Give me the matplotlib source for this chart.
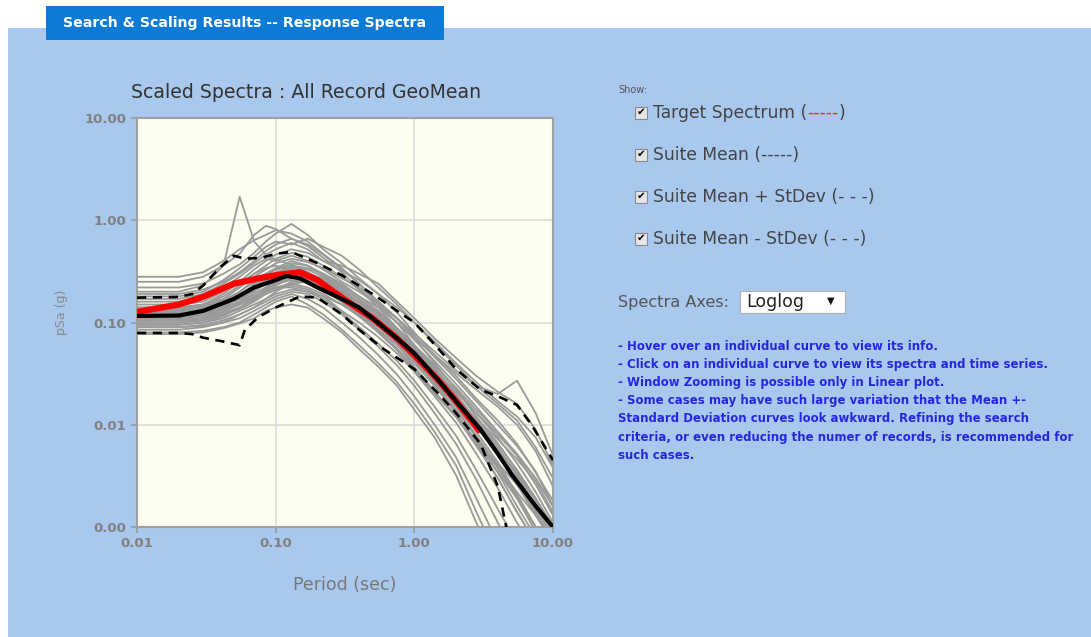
import numpy as np
import matplotlib
matplotlib.use("Agg")
import matplotlib.pyplot as plt
from matplotlib.patches import Rectangle
from matplotlib.ticker import FixedLocator, FuncFormatter

plt.rcParams['font.family'] = ['DejaVu Sans']

W, H = 1091, 637

# periods (sec) shared by all records
periods = [0.01, 0.02, 0.03, 0.042, 0.055, 0.07, 0.085, 0.1, 0.13, 0.17, 0.22, 0.3,
           0.4, 0.55, 0.75, 1.0, 1.4, 2.0, 2.8, 4.0, 5.5, 7.5, 10.0]

# individual scaled records, pSa (g)
records = [
    [0.28, 0.28, 0.31, 0.40, 0.52, 0.64, 0.72, 0.80, 0.74, 0.62, 0.47, 0.34, 0.24, 0.15, 0.10, 0.060, 0.034, 0.019, 0.010, 0.0052, 0.0026, 0.0013, 0.0008],
    [0.25, 0.25, 0.28, 0.36, 0.47, 0.72, 0.88, 0.82, 0.66, 0.56, 0.43, 0.31, 0.21, 0.14, 0.088, 0.052, 0.029, 0.016, 0.0085, 0.0043, 0.0021, 0.0010, 0.0006],
    [0.22, 0.22, 0.24, 0.30, 0.37, 0.48, 0.62, 0.74, 0.92, 0.72, 0.52, 0.38, 0.27, 0.19, 0.125, 0.080, 0.048, 0.030, 0.018, 0.011, 0.0065, 0.0034, 0.0018],
    [0.20, 0.20, 0.23, 0.36, 1.70, 0.62, 0.46, 0.41, 0.37, 0.31, 0.25, 0.19, 0.14, 0.095, 0.062, 0.037, 0.021, 0.012, 0.0065, 0.0035, 0.0019, 0.0010, 0.0005],
    [0.18, 0.18, 0.20, 0.26, 0.34, 0.44, 0.55, 0.62, 0.58, 0.66, 0.55, 0.45, 0.33, 0.22, 0.15, 0.10, 0.062, 0.038, 0.024, 0.016, 0.011, 0.006, 0.003],
    [0.17, 0.17, 0.19, 0.24, 0.30, 0.38, 0.46, 0.52, 0.60, 0.52, 0.40, 0.36, 0.30, 0.24, 0.16, 0.11, 0.070, 0.045, 0.030, 0.021, 0.016, 0.009, 0.004],
    [0.16, 0.16, 0.18, 0.22, 0.28, 0.36, 0.42, 0.40, 0.45, 0.40, 0.33, 0.25, 0.20, 0.15, 0.11, 0.078, 0.052, 0.034, 0.024, 0.020, 0.027, 0.013, 0.005],
    [0.15, 0.15, 0.16, 0.20, 0.24, 0.30, 0.36, 0.42, 0.48, 0.44, 0.36, 0.28, 0.21, 0.15, 0.10, 0.068, 0.042, 0.025, 0.015, 0.0085, 0.0050, 0.0026, 0.0013],
    [0.14, 0.14, 0.15, 0.17, 0.22, 0.28, 0.33, 0.38, 0.42, 0.39, 0.34, 0.27, 0.22, 0.16, 0.11, 0.074, 0.046, 0.028, 0.017, 0.010, 0.0062, 0.0035, 0.0016],
    [0.13, 0.13, 0.14, 0.16, 0.20, 0.26, 0.30, 0.33, 0.36, 0.34, 0.30, 0.24, 0.18, 0.13, 0.088, 0.060, 0.038, 0.022, 0.013, 0.0075, 0.0042, 0.0022, 0.0011],
    [0.125, 0.126, 0.135, 0.15, 0.18, 0.22, 0.27, 0.31, 0.35, 0.31, 0.26, 0.20, 0.16, 0.11, 0.078, 0.052, 0.031, 0.018, 0.0100, 0.0055, 0.0030, 0.0015, 0.0008],
    [0.12, 0.12, 0.13, 0.15, 0.17, 0.20, 0.24, 0.28, 0.30, 0.28, 0.24, 0.19, 0.15, 0.12, 0.085, 0.058, 0.036, 0.020, 0.011, 0.006, 0.0032, 0.0016, 0.0009],
    [0.115, 0.116, 0.12, 0.14, 0.16, 0.19, 0.22, 0.25, 0.28, 0.27, 0.22, 0.17, 0.13, 0.095, 0.066, 0.044, 0.026, 0.014, 0.0075, 0.0038, 0.0019, 0.0009, 0.0005],
    [0.11, 0.11, 0.12, 0.13, 0.15, 0.18, 0.21, 0.24, 0.26, 0.25, 0.21, 0.16, 0.12, 0.085, 0.060, 0.040, 0.024, 0.013, 0.0068, 0.0034, 0.0016, 0.0008, 0.0004],
    [0.105, 0.106, 0.11, 0.125, 0.14, 0.17, 0.20, 0.22, 0.24, 0.22, 0.19, 0.15, 0.115, 0.082, 0.056, 0.036, 0.021, 0.012, 0.0062, 0.0030, 0.0014, 0.0007, 0.0004],
    [0.10, 0.10, 0.105, 0.12, 0.135, 0.16, 0.19, 0.21, 0.23, 0.21, 0.18, 0.13, 0.10, 0.072, 0.050, 0.033, 0.019, 0.0105, 0.0052, 0.0024, 0.0011, 0.0006, 0.0003],
    [0.095, 0.095, 0.10, 0.11, 0.13, 0.15, 0.17, 0.19, 0.21, 0.20, 0.17, 0.125, 0.09, 0.062, 0.042, 0.027, 0.015, 0.0078, 0.0036, 0.0015, 0.0007, 0.0004, 0.0002],
    [0.09, 0.09, 0.095, 0.105, 0.12, 0.14, 0.16, 0.18, 0.20, 0.19, 0.16, 0.12, 0.085, 0.058, 0.038, 0.024, 0.013, 0.0065, 0.0029, 0.0011, 0.0005, 0.0003, 0.0002],
    [0.085, 0.085, 0.09, 0.10, 0.11, 0.13, 0.15, 0.17, 0.19, 0.17, 0.14, 0.10, 0.072, 0.048, 0.031, 0.019, 0.010, 0.0048, 0.0019, 0.0007, 0.0004, 0.0002, 0.0001],
    [0.08, 0.08, 0.083, 0.09, 0.10, 0.12, 0.14, 0.16, 0.18, 0.15, 0.12, 0.085, 0.060, 0.040, 0.026, 0.016, 0.0085, 0.0040, 0.0014, 0.0005, 0.0003, 0.0002, 0.0001],
    [0.077, 0.077, 0.08, 0.088, 0.098, 0.11, 0.13, 0.14, 0.15, 0.14, 0.11, 0.08, 0.055, 0.037, 0.024, 0.014, 0.0075, 0.0032, 0.0011, 0.0004, 0.0002, 0.0001, 0.0001],
    [0.13, 0.13, 0.15, 0.19, 0.25, 0.33, 0.40, 0.46, 0.52, 0.48, 0.40, 0.32, 0.26, 0.19, 0.14, 0.10, 0.065, 0.040, 0.026, 0.017, 0.012, 0.0075, 0.0038],
    [0.14, 0.14, 0.15, 0.18, 0.23, 0.30, 0.34, 0.36, 0.32, 0.28, 0.22, 0.16, 0.12, 0.080, 0.054, 0.034, 0.020, 0.012, 0.007, 0.0042, 0.0026, 0.0015, 0.0009],
    [0.11, 0.11, 0.12, 0.14, 0.18, 0.24, 0.29, 0.33, 0.38, 0.36, 0.30, 0.23, 0.18, 0.14, 0.10, 0.070, 0.048, 0.032, 0.022, 0.015, 0.010, 0.0055, 0.0025],
    [0.19, 0.19, 0.21, 0.25, 0.31, 0.40, 0.50, 0.58, 0.66, 0.58, 0.46, 0.33, 0.24, 0.16, 0.11, 0.070, 0.040, 0.022, 0.012, 0.0066, 0.0036, 0.0019, 0.0010],
    [0.10, 0.10, 0.11, 0.13, 0.16, 0.21, 0.26, 0.30, 0.34, 0.33, 0.28, 0.22, 0.17, 0.12, 0.080, 0.050, 0.028, 0.015, 0.0078, 0.0040, 0.0020, 0.0010, 0.0005],
    [0.12, 0.12, 0.125, 0.14, 0.16, 0.19, 0.22, 0.26, 0.29, 0.27, 0.23, 0.18, 0.14, 0.10, 0.072, 0.048, 0.029, 0.017, 0.0095, 0.0052, 0.0028, 0.0014, 0.0007],
    [0.105, 0.105, 0.11, 0.12, 0.14, 0.17, 0.21, 0.25, 0.31, 0.30, 0.25, 0.19, 0.15, 0.11, 0.075, 0.050, 0.031, 0.019, 0.011, 0.0064, 0.0036, 0.0019, 0.0010],
    [0.095, 0.095, 0.10, 0.115, 0.14, 0.17, 0.20, 0.22, 0.22, 0.20, 0.18, 0.15, 0.12, 0.090, 0.063, 0.042, 0.026, 0.016, 0.0095, 0.0056, 0.0033, 0.0018, 0.0009],
    [0.135, 0.135, 0.14, 0.16, 0.19, 0.23, 0.27, 0.29, 0.30, 0.26, 0.21, 0.16, 0.125, 0.092, 0.065, 0.045, 0.028, 0.017, 0.010, 0.0058, 0.0034, 0.0019, 0.0010],
    [0.125, 0.125, 0.13, 0.145, 0.17, 0.21, 0.25, 0.30, 0.33, 0.30, 0.25, 0.20, 0.16, 0.12, 0.085, 0.056, 0.034, 0.019, 0.0105, 0.0056, 0.0029, 0.0014, 0.0007],
    [0.09, 0.09, 0.092, 0.10, 0.12, 0.14, 0.17, 0.20, 0.24, 0.25, 0.22, 0.17, 0.13, 0.095, 0.066, 0.045, 0.029, 0.018, 0.0115, 0.0072, 0.0046, 0.0028, 0.0014],
    [0.115, 0.115, 0.12, 0.135, 0.155, 0.18, 0.20, 0.23, 0.27, 0.29, 0.26, 0.20, 0.15, 0.105, 0.070, 0.044, 0.025, 0.013, 0.0065, 0.0030, 0.0014, 0.0007, 0.0003],
    [0.10, 0.10, 0.105, 0.118, 0.14, 0.165, 0.19, 0.21, 0.25, 0.26, 0.22, 0.16, 0.115, 0.080, 0.054, 0.035, 0.021, 0.012, 0.0068, 0.0038, 0.0022, 0.0013, 0.0007],
    [0.14, 0.14, 0.145, 0.165, 0.20, 0.25, 0.30, 0.34, 0.40, 0.36, 0.29, 0.22, 0.17, 0.125, 0.088, 0.060, 0.038, 0.023, 0.014, 0.0085, 0.0052, 0.0030, 0.0016],
    [0.11, 0.11, 0.115, 0.13, 0.15, 0.175, 0.21, 0.24, 0.28, 0.30, 0.27, 0.21, 0.16, 0.115, 0.080, 0.054, 0.034, 0.021, 0.013, 0.0080, 0.0050, 0.0030, 0.0016],
]

# suite mean
mean_T = [0.01, 0.02, 0.03, 0.05, 0.07, 0.1, 0.12, 0.15, 0.2, 0.3, 0.4, 0.5, 0.75, 1.0,
          1.5, 2.0, 3.0, 4.0, 5.0, 7.5, 10.0]
mean_sa = [0.116, 0.117, 0.13, 0.17, 0.22, 0.26, 0.285, 0.27, 0.22, 0.17, 0.14, 0.11,
           0.07, 0.05, 0.027, 0.017, 0.009, 0.0052, 0.0033, 0.0016, 0.001]

# mean + stdev
up_T = [0.01, 0.02, 0.025, 0.03, 0.04, 0.05, 0.06, 0.08, 0.1, 0.13, 0.2, 0.3, 0.5,
        0.75, 1.0, 1.5, 2.0, 3.0, 4.0, 5.5, 7.0, 10.0]
up_sa = [0.175, 0.178, 0.19, 0.23, 0.35, 0.45, 0.42, 0.43, 0.47, 0.49, 0.38, 0.29,
         0.19, 0.13, 0.10, 0.055, 0.035, 0.022, 0.019, 0.0156, 0.010, 0.0045]

# mean - stdev
lo_T = [0.01, 0.02, 0.025, 0.03, 0.04, 0.055, 0.06, 0.075, 0.1, 0.15, 0.2, 0.3, 0.4,
        0.6, 1.0, 1.5, 2.0, 3.0, 4.0, 4.6]
lo_sa = [0.079, 0.079, 0.077, 0.071, 0.066, 0.060, 0.085, 0.113, 0.14, 0.18, 0.175,
         0.12, 0.085, 0.055, 0.035, 0.020, 0.013, 0.0065, 0.0025, 0.001]

# target spectrum
tgt_T = [0.01, 0.02, 0.03, 0.05, 0.075, 0.1, 0.15, 0.2, 0.3, 0.5, 0.75, 1.0, 1.5, 2.0, 3.0]
tgt_sa = [0.127, 0.15, 0.178, 0.24, 0.27, 0.29, 0.31, 0.26, 0.175, 0.11, 0.07, 0.048,
          0.027, 0.017, 0.0085]

decade_ticks = [0.001, 0.01, 0.1, 1.0, 10.0]
period_ticks = [0.01, 0.1, 1.0, 10.0]

show_items = ["Target Spectrum (", "Suite Mean (-----)", "Suite Mean + StDev (- - -)",
              "Suite Mean - StDev (- - -)"]
notes = [
    "- Hover over an individual curve to view its info.",
    "- Click on an individual curve to view its spectra and time series.",
    "- Window Zooming is possible only in Linear plot.",
    "- Some cases may have such large variation that the Mean +-",
    "Standard Deviation curves look awkward. Refining the search",
    "criteria, or even reducing the numer of records, is recommended for",
    "such cases.",
]


def fx(x):
    return x / W


def fy(y):
    return 1 - y / H


fig = plt.figure(figsize=(W / 100, H / 100), dpi=100)
fig.patch.set_facecolor("white")

# page panel and tab
fig.patches.append(Rectangle((fx(8), 0), 1 - fx(8), fy(28), transform=fig.transFigure,
                             facecolor="#a9c8ee", edgecolor="none", zorder=-2))
fig.patches.append(Rectangle((fx(46), fy(40)), fx(444 - 46), (40 - 6) / H, transform=fig.transFigure,
                             facecolor="#0d7bd5", edgecolor="none", zorder=-1))
fig.text(fx(245), fy(23), "Search & Scaling Results -- Response Spectra", color="white",
         fontsize=10.2, fontweight="bold", ha="center", va="center")

# chart
ax = fig.add_axes([fx(137), fy(527), fx(553 - 137), (527 - 118) / H])
ax.set_zorder(3)
ax.set_facecolor("#fdfdf0")
for rec in records:
    ax.plot(periods, rec, color="#9a9a9a", lw=1.3, zorder=2)
ax.plot(tgt_T, tgt_sa, color="#ff0000", lw=4.5, solid_capstyle="butt", zorder=3)
ax.plot(mean_T, mean_sa, color="black", lw=3, zorder=4)
ax.plot(up_T, up_sa, color="black", lw=1.9, dashes=(3.5, 2.5), zorder=5)
ax.plot(lo_T, lo_sa, color="black", lw=1.9, dashes=(3.5, 2.5), zorder=5)

ax.set_xscale("log")
ax.set_yscale("log")
ax.set_xlim(0.01, 10)
ax.set_ylim(0.001, 10)
ax.xaxis.set_major_locator(FixedLocator(period_ticks))
ax.yaxis.set_major_locator(FixedLocator(decade_ticks))
ax.xaxis.set_minor_locator(FixedLocator([]))
ax.yaxis.set_minor_locator(FixedLocator([]))
fmt = FuncFormatter(lambda v, p: "%.2f" % v)
ax.xaxis.set_major_formatter(fmt)
ax.yaxis.set_major_formatter(fmt)
ax.grid(True, color="#dcdcdc", lw=1.2, zorder=1)
ax.tick_params(colors="#9a9a9a", labelcolor="#808080", labelsize=9.5, length=4, width=1.2)
for lab in ax.get_xticklabels() + ax.get_yticklabels():
    lab.set_fontweight("bold")
for s in ax.spines.values():
    s.set_color("#a0a0a0")
    s.set_linewidth(1.5)

fig.text(fx(306), fy(92), "Scaled Spectra : All Record GeoMean", color="#333333",
         fontsize=13.6, ha="center", va="center")
fig.text(fx(345), fy(585), "Period (sec)", color="#777777", fontsize=12.5,
         ha="center", va="center")
fig.text(fx(62), fy(312), "pSa (g)", color="#888888", fontsize=9, rotation=90,
         ha="center", va="center")

# right-hand controls
fig.text(fx(618), fy(90), "Show:", color="#555555", fontsize=7, va="center")
for i, label in enumerate(show_items):
    yc = 113 + i * 42
    fig.patches.append(Rectangle((fx(635), fy(yc + 6)), fx(12), 12 / H, transform=fig.transFigure,
                                 facecolor="#e6e6e6", edgecolor="#8a8a8a", lw=0.8, zorder=2))
    fig.text(fx(641), fy(yc - 1), "\u2714", color="black", fontsize=7.5, ha="center", va="center")
    t = fig.text(fx(653), fy(yc), label, color="#444444", fontsize=12.3, va="center")
    if i == 0:
        fig.canvas.draw()
        bb = t.get_window_extent()
        t2 = fig.text(bb.x1 / W, fy(yc), "-----", color="#ff2020", fontsize=12.3, va="center")
        fig.canvas.draw()
        bb2 = t2.get_window_extent()
        fig.text(bb2.x1 / W, fy(yc), ")", color="#444444", fontsize=12.3, va="center")

fig.text(fx(618), fy(302), "Spectra Axes:", color="#555555", fontsize=11.6, va="center")
fig.patches.append(Rectangle((fx(740), fy(313)), fx(105), 22 / H, transform=fig.transFigure,
                             facecolor="white", edgecolor="#b0b0b0", lw=0.8, zorder=2))
fig.text(fx(746), fy(302), "Loglog", color="#222222", fontsize=12.5, va="center")
fig.text(fx(831), fy(301), "\u25bc", color="#111111", fontsize=7, ha="center", va="center")

for i, line in enumerate(notes):
    fig.text(fx(618), fy(346 + i * 18.2), line, color="#2626e0", fontsize=8.5,
             fontweight="bold", va="center")

fig.savefig("out.png", dpi=100, facecolor=fig.get_facecolor())
